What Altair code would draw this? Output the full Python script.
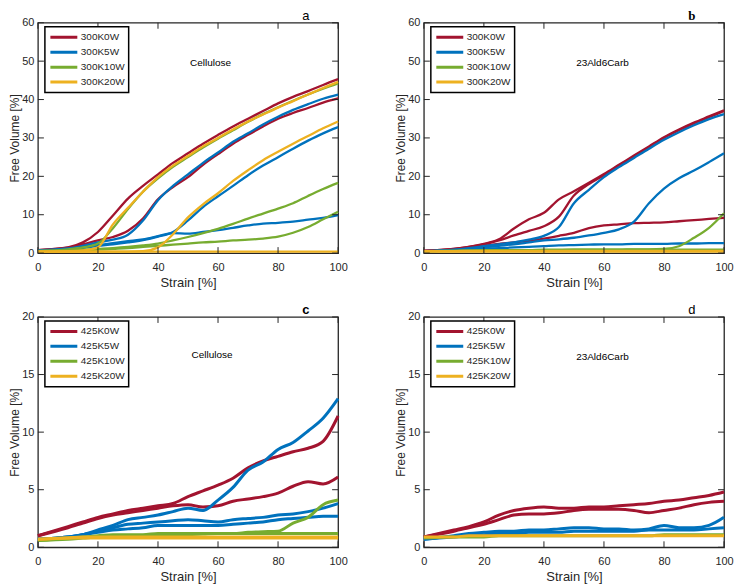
import altair as alt
import pandas as pd

# ---------------- data ----------------
STRAIN = [0, 10, 15, 20, 25, 30, 35, 40, 45, 50, 55, 60, 65, 70, 75, 80, 85, 90, 95, 100]
X_TICKS = [0, 20, 40, 60, 80, 100]
Y_TICKS_TOP = [0, 10, 20, 30, 40, 50, 60]
Y_TICKS_BOTTOM = [0, 5, 10, 15, 20]

SERIES_300 = ["300K0W", "300K5W", "300K10W", "300K20W"]
SERIES_425 = ["425K0W", "425K5W", "425K10W", "425K20W"]
COLORS = ["#A2142F", "#0072BD", "#77AC30", "#EDB120"]

# panel a : 300 K, Cellulose
A_0W_1 = [0.8, 1.5, 2.8, 5.5, 9.8, 14.2, 17.5, 20.5, 23.5, 26.0, 28.5, 30.8, 33.0, 35.0, 37.0, 39.0, 40.7, 42.2, 43.8, 45.3]
A_0W_2 = [0.8, 1.4, 2.3, 3.3, 4.2, 5.8, 9.0, 14.0, 17.2, 19.8, 23.0, 25.8, 28.5, 30.8, 33.0, 35.0, 36.5, 37.8, 39.2, 40.3]
A_5W_1 = [0.7, 1.2, 1.9, 2.8, 3.5, 4.8, 8.5, 13.8, 17.5, 20.5, 23.5, 26.2, 29.0, 31.2, 33.5, 35.5, 37.3, 38.8, 40.2, 41.3]
A_5W_2 = [0.6, 1.0, 1.4, 1.9, 2.3, 2.8, 3.4, 4.3, 5.5, 8.5, 12.0, 14.8, 17.5, 20.3, 22.8, 25.0, 27.2, 29.3, 31.2, 32.8]
A_5W_3 = [0.6, 1.0, 1.5, 2.1, 2.6, 3.1, 3.6, 4.4, 5.2, 5.1, 5.5, 6.0, 6.6, 7.2, 7.7, 7.9, 8.2, 8.7, 9.2, 9.9]
A_10W_1 = [0.6, 1.0, 1.5, 2.5, 6.5, 11.5, 16.0, 19.5, 22.5, 25.0, 27.5, 29.8, 32.0, 34.2, 36.2, 38.0, 39.7, 41.3, 42.8, 44.2]
A_10W_2 = [0.5, 0.7, 0.9, 1.1, 1.3, 1.6, 2.0, 2.5, 3.3, 4.2, 5.2, 6.3, 7.6, 9.0, 10.3, 11.6, 13.0, 14.9, 16.7, 18.3]
A_10W_3 = [0.5, 0.6, 0.7, 0.9, 1.1, 1.3, 1.6, 1.9, 2.2, 2.5, 2.8, 3.0, 3.3, 3.5, 3.8, 4.3, 5.3, 6.8, 8.8, 10.8]
A_20W_1 = [0.4, 0.5, 0.7, 1.5, 7.5, 11.8, 16.0, 19.8, 22.8, 25.3, 27.8, 30.0, 32.2, 34.3, 36.1, 37.9, 39.6, 41.3, 43.0, 44.6]
A_20W_2 = [0.4, 0.4, 0.4, 0.4, 0.4, 0.4, 0.5, 1.5, 4.9, 9.3, 12.7, 15.6, 18.8, 21.6, 24.2, 26.4, 28.5, 30.5, 32.5, 34.3]
A_20W_3 = [0.4, 0.4, 0.4, 0.4, 0.4, 0.4, 0.4, 0.4, 0.4, 0.4, 0.4, 0.4, 0.4, 0.4, 0.4, 0.4, 0.4, 0.4, 0.4, 0.4]

# panel b : 300 K, 23Ald6Carb
B_0W_1 = [0.6, 1.1, 1.6, 2.4, 3.6, 6.4, 8.8, 10.5, 14.0, 16.1, 18.3, 20.6, 23.0, 25.4, 27.8, 30.2, 32.2, 34.0, 35.6, 37.2]
B_0W_2 = [0.6, 1.1, 1.6, 2.3, 3.3, 4.6, 5.8, 7.0, 9.5, 15.0, 18.0, 20.3, 22.8, 25.2, 27.6, 30.0, 32.0, 33.8, 35.4, 37.0]
B_0W_3 = [0.6, 1.0, 1.4, 1.9, 2.4, 2.8, 3.2, 3.8, 4.5, 5.3, 6.5, 7.2, 7.5, 7.8, 7.9, 8.0, 8.3, 8.6, 8.9, 9.2]
B_5W_1 = [0.5, 0.9, 1.3, 1.8, 2.3, 2.8, 3.5, 4.5, 6.8, 13.0, 16.5, 19.8, 22.4, 24.8, 27.2, 29.5, 31.5, 33.3, 34.9, 36.2]
B_5W_2 = [0.5, 0.8, 1.1, 1.5, 1.9, 2.3, 2.8, 3.3, 3.6, 4.0, 4.6, 5.3, 6.2, 8.2, 13.0, 16.8, 19.5, 21.5, 23.7, 26.0]
B_5W_3 = [0.5, 0.7, 0.9, 1.1, 1.3, 1.5, 1.6, 1.8, 2.0, 2.1, 2.2, 2.3, 2.3, 2.4, 2.4, 2.4, 2.5, 2.5, 2.6, 2.6]
B_10W_1 = [0.5, 0.6, 0.6, 0.7, 0.7, 0.8, 0.8, 0.8, 0.8, 0.9, 0.9, 0.9, 0.9, 1.0, 1.0, 1.1, 1.8, 4.0, 6.6, 10.4]
B_10W_2 = [0.5, 0.6, 0.7, 0.8, 0.8, 0.8, 0.8, 0.9, 0.9, 0.9, 0.9, 0.9, 0.9, 0.9, 0.9, 0.9, 0.9, 0.9, 0.9, 0.9]
B_20W_1 = [0.4, 0.4, 0.4, 0.4, 0.4, 0.4, 0.4, 0.4, 0.4, 0.4, 0.4, 0.4, 0.4, 0.4, 0.4, 0.4, 0.4, 0.4, 0.4, 0.4]
B_20W_2 = [0.5, 0.5, 0.6, 0.6, 0.6, 0.6, 0.6, 0.6, 0.6, 0.6, 0.6, 0.6, 0.6, 0.6, 0.6, 0.6, 0.6, 0.6, 0.6, 0.6]

# panel c : 425 K, Cellulose
C_0W_1 = [1.0, 1.8, 2.2, 2.6, 2.9, 3.2, 3.4, 3.6, 3.8, 4.4, 4.9, 5.4, 6.0, 6.9, 7.5, 7.9, 8.3, 8.6, 9.2, 11.4]
C_0W_2 = [1.0, 1.7, 2.1, 2.5, 2.8, 3.0, 3.2, 3.4, 3.6, 3.7, 3.5, 3.6, 4.0, 4.2, 4.4, 4.7, 5.3, 5.7, 5.5, 6.1]
C_5W_1 = [0.7, 0.9, 1.1, 1.5, 1.9, 2.4, 2.6, 2.8, 3.1, 3.4, 3.2, 4.1, 5.2, 6.7, 7.4, 8.5, 9.1, 10.1, 11.2, 12.9]
C_5W_2 = [0.7, 0.9, 1.1, 1.4, 1.7, 2.0, 2.1, 2.2, 2.3, 2.4, 2.3, 2.2, 2.4, 2.5, 2.6, 2.8, 2.9, 3.1, 3.4, 3.8]
C_5W_3 = [0.7, 0.9, 1.1, 1.3, 1.5, 1.6, 1.7, 1.9, 1.9, 1.9, 1.9, 1.9, 2.0, 2.1, 2.2, 2.4, 2.5, 2.6, 2.7, 2.7]
C_10W_1 = [0.6, 0.7, 0.8, 0.9, 0.95, 1.0, 1.0, 1.05, 1.1, 1.1, 1.15, 1.2, 1.2, 1.3, 1.35, 1.4, 2.1, 2.6, 3.7, 4.1]
C_10W_2 = [0.6, 0.8, 0.9, 1.0, 1.1, 1.1, 1.1, 1.2, 1.2, 1.2, 1.2, 1.2, 1.2, 1.2, 1.2, 1.2, 1.2, 1.2, 1.2, 1.2]
C_20W_1 = [0.7, 0.8, 0.8, 0.8, 0.8, 0.8, 0.8, 0.8, 0.8, 0.8, 0.8, 0.8, 0.8, 0.8, 0.8, 0.8, 0.8, 0.8, 0.8, 0.8]
C_20W_2 = [0.7, 0.8, 0.9, 0.9, 0.9, 0.9, 0.9, 0.9, 0.9, 0.9, 0.9, 0.9, 0.9, 0.9, 0.9, 0.9, 0.9, 0.9, 0.9, 0.9]

# panel d : 425 K, 23Ald6Carb
D_0W_1 = [0.9, 1.5, 1.8, 2.2, 2.8, 3.2, 3.4, 3.5, 3.4, 3.4, 3.5, 3.5, 3.6, 3.7, 3.8, 4.0, 4.1, 4.3, 4.5, 4.8]
D_0W_2 = [0.9, 1.4, 1.7, 2.0, 2.4, 2.8, 2.9, 2.9, 3.0, 3.2, 3.3, 3.3, 3.3, 3.2, 3.0, 3.2, 3.4, 3.7, 3.9, 4.0]
D_5W_1 = [0.7, 1.0, 1.2, 1.3, 1.4, 1.4, 1.5, 1.5, 1.6, 1.7, 1.7, 1.6, 1.6, 1.5, 1.6, 1.9, 1.7, 1.7, 1.9, 2.6]
D_5W_2 = [0.7, 0.9, 1.0, 1.1, 1.2, 1.2, 1.3, 1.3, 1.3, 1.4, 1.4, 1.4, 1.4, 1.4, 1.5, 1.5, 1.5, 1.5, 1.6, 1.7]
D_10W_1 = [0.8, 0.9, 0.9, 0.9, 1.0, 1.0, 1.0, 1.0, 1.0, 1.0, 1.0, 1.0, 1.0, 1.0, 1.0, 1.1, 1.1, 1.1, 1.1, 1.1]
D_20W_1 = [0.9, 0.9, 1.0, 1.0, 1.0, 1.0, 1.0, 1.0, 1.0, 1.0, 1.0, 1.0, 1.0, 1.0, 1.0, 1.0, 1.0, 1.0, 1.0, 1.0]

NOTES = ["Cellulose", "23Ald6Carb", "Cellulose", "23Ald6Carb"]
NOTE_X = [57.5, 59.5, 58.0, 59.5]
NOTE_Y = [49.6, 49.6, 16.7, 16.5]
LETTERS = ["a", "b", "c", "d"]

INK = "#262626"
FONT = "Liberation Sans"
W, H = 301, 231


def frame_table(curves):
    rows = []
    for series, run, values in curves:
        for s, v in zip(STRAIN, values):
            rows.append({"strain": s, "fv": v, "series": series, "run": f"{series}-{run}"})
    return pd.DataFrame(rows)


def panel(curves, names, ymax, yticks, letter, letter_font, letter_weight, note, nx, ny, lw):
    xenc = alt.X("strain:Q", scale=alt.Scale(domain=[0, 100], nice=False),
                 axis=alt.Axis(values=X_TICKS, title="Strain [%]", labelPadding=8,
                               titlePadding=4, labelFlush=False))
    yenc = alt.Y("fv:Q", scale=alt.Scale(domain=[0, ymax], nice=False),
                 axis=alt.Axis(values=yticks, title="Free Volume [%]", labelPadding=4,
                               titlePadding=0))
    lines = alt.Chart(frame_table(curves)).mark_line(strokeWidth=lw, interpolate="monotone").encode(
        x=xenc, y=yenc,
        color=alt.Color("series:N", sort=names,
                        scale=alt.Scale(domain=names, range=COLORS),
                        legend=alt.Legend(title=None, orient="none", legendX=7, legendY=4,
                                          strokeColor="black", fillColor="white", padding=4,
                                          symbolType="stroke", symbolSize=729, symbolStrokeWidth=3,
                                          labelFontSize=10, labelFont=FONT, labelColor=INK,
                                          clipHeight=13, rowPadding=2, labelOffset=2)),
        detail="run:N",
    )
    xt = alt.Chart(pd.DataFrame({"strain": X_TICKS})).mark_rule(color=INK, strokeWidth=1)
    yt = alt.Chart(pd.DataFrame({"fv": yticks})).mark_rule(color=INK, strokeWidth=1)
    ticks = [
        xt.encode(x=xenc, y=alt.value(H), y2=alt.value(H - 6)),
        xt.encode(x=xenc, y=alt.value(0), y2=alt.value(6)),
        yt.encode(y=yenc, x=alt.value(0), x2=alt.value(6)),
        yt.encode(y=yenc, x=alt.value(W), x2=alt.value(W - 6)),
    ]
    text = alt.Chart(pd.DataFrame({"strain": [nx], "fv": [ny], "note": [note]})).mark_text(
        font=FONT, fontSize=10, color="black", align="center", baseline="middle"
    ).encode(x=xenc, y=yenc, text="note:N")
    tag = alt.Chart(pd.DataFrame({"tag": [letter]})).mark_text(
        font=letter_font, fontSize=13, fontWeight=letter_weight, color="black",
        align="left", baseline="alphabetic"
    ).encode(x=alt.value(W - 36), y=alt.value(-3), text="tag:N")
    return alt.layer(lines, *ticks, text, tag).properties(width=W, height=H)


pa = panel([(SERIES_300[0], 1, A_0W_1), (SERIES_300[0], 2, A_0W_2),
            (SERIES_300[1], 1, A_5W_1), (SERIES_300[1], 2, A_5W_2), (SERIES_300[1], 3, A_5W_3),
            (SERIES_300[2], 1, A_10W_1), (SERIES_300[2], 2, A_10W_2), (SERIES_300[2], 3, A_10W_3),
            (SERIES_300[3], 1, A_20W_1), (SERIES_300[3], 2, A_20W_2), (SERIES_300[3], 3, A_20W_3)],
           SERIES_300, 60, Y_TICKS_TOP, LETTERS[0], FONT, "normal", NOTES[0], NOTE_X[0], NOTE_Y[0], 2.3)
pb = panel([(SERIES_300[0], 1, B_0W_1), (SERIES_300[0], 2, B_0W_2), (SERIES_300[0], 3, B_0W_3),
            (SERIES_300[1], 1, B_5W_1), (SERIES_300[1], 2, B_5W_2), (SERIES_300[1], 3, B_5W_3),
            (SERIES_300[2], 1, B_10W_1), (SERIES_300[2], 2, B_10W_2),
            (SERIES_300[3], 1, B_20W_1), (SERIES_300[3], 2, B_20W_2)],
           SERIES_300, 60, Y_TICKS_TOP, LETTERS[1], "Liberation Serif", "bold", NOTES[1], NOTE_X[1], NOTE_Y[1], 2.3)
pc = panel([(SERIES_425[0], 1, C_0W_1), (SERIES_425[0], 2, C_0W_2),
            (SERIES_425[1], 1, C_5W_1), (SERIES_425[1], 2, C_5W_2), (SERIES_425[1], 3, C_5W_3),
            (SERIES_425[2], 1, C_10W_1), (SERIES_425[2], 2, C_10W_2),
            (SERIES_425[3], 1, C_20W_1), (SERIES_425[3], 2, C_20W_2)],
           SERIES_425, 20, Y_TICKS_BOTTOM, LETTERS[2], FONT, "bold", NOTES[2], NOTE_X[2], NOTE_Y[2], 3)
pd_ = panel([(SERIES_425[0], 1, D_0W_1), (SERIES_425[0], 2, D_0W_2),
             (SERIES_425[1], 1, D_5W_1), (SERIES_425[1], 2, D_5W_2),
             (SERIES_425[2], 1, D_10W_1),
             (SERIES_425[3], 1, D_20W_1)],
            SERIES_425, 20, Y_TICKS_BOTTOM, LETTERS[3], FONT, "normal", NOTES[3], NOTE_X[3], NOTE_Y[3], 3)

row1 = alt.hconcat(pa, pb, spacing=46).resolve_scale(color="independent")
row2 = alt.hconcat(pc, pd_, spacing=46).resolve_scale(color="independent")
chart = alt.vconcat(row1, row2, spacing=13).resolve_scale(color="independent").properties(
    padding={"left": 0, "top": 0, "right": 0, "bottom": 0},
    background="white",
).configure_view(stroke=INK, strokeWidth=1.3).configure_axis(
    domain=False, ticks=False, tickSize=0, grid=False,
    labelFont=FONT, labelFontSize=11, labelColor=INK,
    titleFont=FONT, titleFontSize=13, titleFontWeight="normal", titleColor=INK,
).configure_axisY(titleFontSize=12).configure_legend(strokeWidth=1.5)

chart.save("out.html", embed_options={"renderer": "svg", "actions": False})
